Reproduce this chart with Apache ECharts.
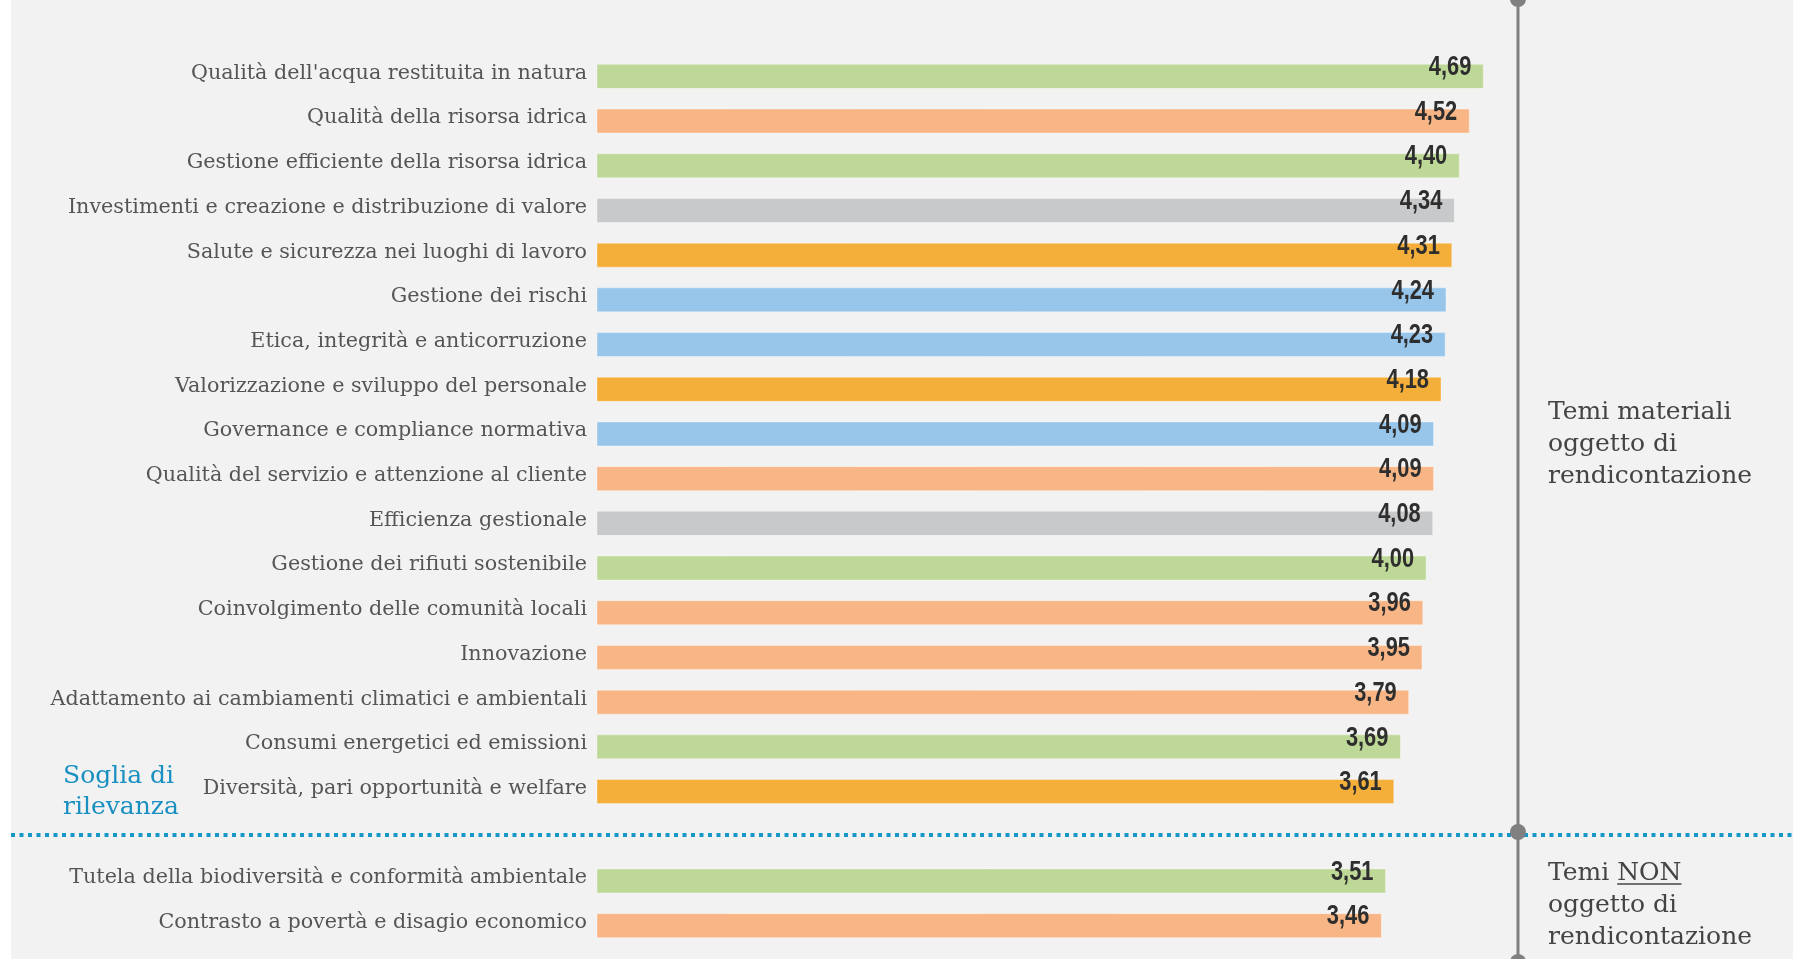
<!DOCTYPE html>
<html>
<head>
<meta charset="utf-8">
<script src="https://cdn.jsdelivr.net/npm/echarts@6/dist/echarts.min.js"></script>
<style>
html,body{margin:0;padding:0;background:#fff;}
#chart{width:1793px;height:959px;}
</style>
</head>
<body>
<div id="chart"></div>
<script>
// ---- data ----
var categories = [
  "Qualità dell'acqua restituita in natura",
  "Qualità della risorsa idrica",
  "Gestione efficiente della risorsa idrica",
  "Investimenti e creazione e distribuzione di valore",
  "Salute e sicurezza nei luoghi di lavoro",
  "Gestione dei rischi",
  "Etica, integrità e anticorruzione",
  "Valorizzazione e sviluppo del personale",
  "Governance e compliance normativa",
  "Qualità del servizio e attenzione al cliente",
  "Efficienza gestionale",
  "Gestione dei rifiuti sostenibile",
  "Coinvolgimento delle comunità locali",
  "Innovazione",
  "Adattamento ai cambiamenti climatici e ambientali",
  "Consumi energetici ed emissioni",
  "Diversità, pari opportunità e welfare",
  "",
  "Tutela della biodiversità e conformità ambientale",
  "Contrasto a povertà e disagio economico"
];
var values = [4.69, 4.52, 4.40, 4.34, 4.31, 4.24, 4.23, 4.18, 4.09, 4.09, 4.08, 4.00, 3.96, 3.95, 3.79, 3.69, 3.61, null, 3.51, 3.46];
var groups = ["env","soc","env","eco","per","gov","gov","per","gov","soc","eco","env","soc","soc","soc","env","per",null,"env","soc"];
var groupColors = {env:"#bed897", soc:"#f8b686", eco:"#c8c9cb", per:"#f4ae3a", gov:"#98c6eb"};
var axisMin = -6, axisMax = 5;
var thresholdLabel = ["Soglia di", "rilevanza"];
var materialLabel = ["Temi materiali", "oggetto di", "rendicontazione"];
var nonMaterialLabel = ["Temi NON", "oggetto di", "rendicontazione"];

// ---- chart ----
var chart = echarts.init(document.getElementById('chart'), null, {renderer: 'canvas'});
var serifName = "DejaVu Serif";
var serif = "'DejaVu Serif', 'Liberation Serif', serif";
var sideFont = 25;
var barHeight = 24;

var pointData = [];
values.forEach(function (v, i) { if (v !== null) pointData.push([v, i]); });

// measure underline position for "NON"
var mctx = document.createElement('canvas').getContext('2d');
mctx.font = sideFont + "px '" + serifName + "'";
var wTemi = mctx.measureText('Temi ').width;
var wNON = mctx.measureText('NON').width;
var sideX = 1548;

var option = {
  backgroundColor: '#f2f2f2',
  animation: false,
  grid: {left: 597, right: 284, top: 54, bottom: 11},
  xAxis: {type: 'value', min: axisMin, max: axisMax, show: false},
  yAxis: {
    type: 'category',
    data: categories,
    inverse: true,
    axisLine: {show: false},
    axisTick: {show: false},
    splitLine: {show: false},
    axisLabel: {margin: 10, fontFamily: serif, fontSize: 20.7, color: '#555',
      verticalAlign: 'bottom', lineHeight: 6}
  },
  series: [{
    type: 'custom',
    name: 'bars',
    data: pointData,
    encode: {x: 0, y: 1},
    z: 2,
    renderItem: function (params, api) {
      var v = api.value(0), idx = api.value(1);
      var s = api.coord([axisMin, idx]);
      var e = api.coord([v, idx]);
      return {
        type: 'rect',
        shape: {x: s[0], y: s[1] - barHeight / 2, width: e[0] - s[0], height: barHeight},
        style: {fill: groupColors[groups[idx]], stroke: 'rgba(255,255,255,0.35)', lineWidth: 1}
      };
    }
  }, {
    type: 'custom',
    name: 'labels',
    data: pointData,
    encode: {x: 0, y: 1},
    z: 10,
    renderItem: function (params, api) {
      var v = api.value(0);
      var pt = api.coord([v, api.value(1)]);
      return {
        type: 'text',
        x: pt[0] - 12,
        y: pt[1] - 9,
        scaleX: 0.78,
        style: {
          text: v.toFixed(2).replace('.', ','),
          fontFamily: "'Liberation Sans', Arial, sans-serif",
          fontWeight: 'bold',
          fontSize: 28,
          fill: '#2e2e2e',
          align: 'right',
          verticalAlign: 'middle'
        }
      };
    }
  }],
  graphic: [
    {type: 'rect', z: -10, shape: {x: 0, y: 0, width: 11, height: 959}, style: {fill: '#ffffff'}},
    {type: 'line', z: 5, shape: {x1: 11, y1: 835, x2: 1793, y2: 835},
      style: {stroke: '#1796c9', lineWidth: 4, lineDash: [4, 4.5]}},
    {type: 'line', z: 6, shape: {x1: 1518, y1: 0, x2: 1518, y2: 959},
      style: {stroke: '#808080', lineWidth: 3}},
    {type: 'circle', z: 7, shape: {cx: 1518, cy: -1, r: 8}, style: {fill: '#808080'}},
    {type: 'circle', z: 7, shape: {cx: 1518, cy: 832, r: 8}, style: {fill: '#808080'}},
    {type: 'circle', z: 7, shape: {cx: 1518, cy: 962, r: 8}, style: {fill: '#808080'}},
    {type: 'text', z: 8, x: 63, y: 792, style: {
      text: thresholdLabel.join('\n'), fontFamily: serif, fontSize: 25, lineHeight: 31,
      fill: '#1a8fc1', align: 'left', verticalAlign: 'middle'}},
    {type: 'text', z: 8, x: sideX, y: 444, style: {
      text: materialLabel.join('\n'), fontFamily: serif, fontSize: sideFont, lineHeight: 32,
      fill: '#444', align: 'left', verticalAlign: 'middle'}},
    {type: 'text', z: 8, x: sideX, y: 905, style: {
      text: nonMaterialLabel.join('\n'), fontFamily: serif, fontSize: sideFont, lineHeight: 32,
      fill: '#444', align: 'left', verticalAlign: 'middle'}},
    {type: 'line', z: 8, shape: {x1: sideX + wTemi, y1: 884, x2: sideX + wTemi + wNON, y2: 884},
      style: {stroke: '#444', lineWidth: 1.5}}
  ]
};
chart.setOption(option);
</script>
</body>
</html>
